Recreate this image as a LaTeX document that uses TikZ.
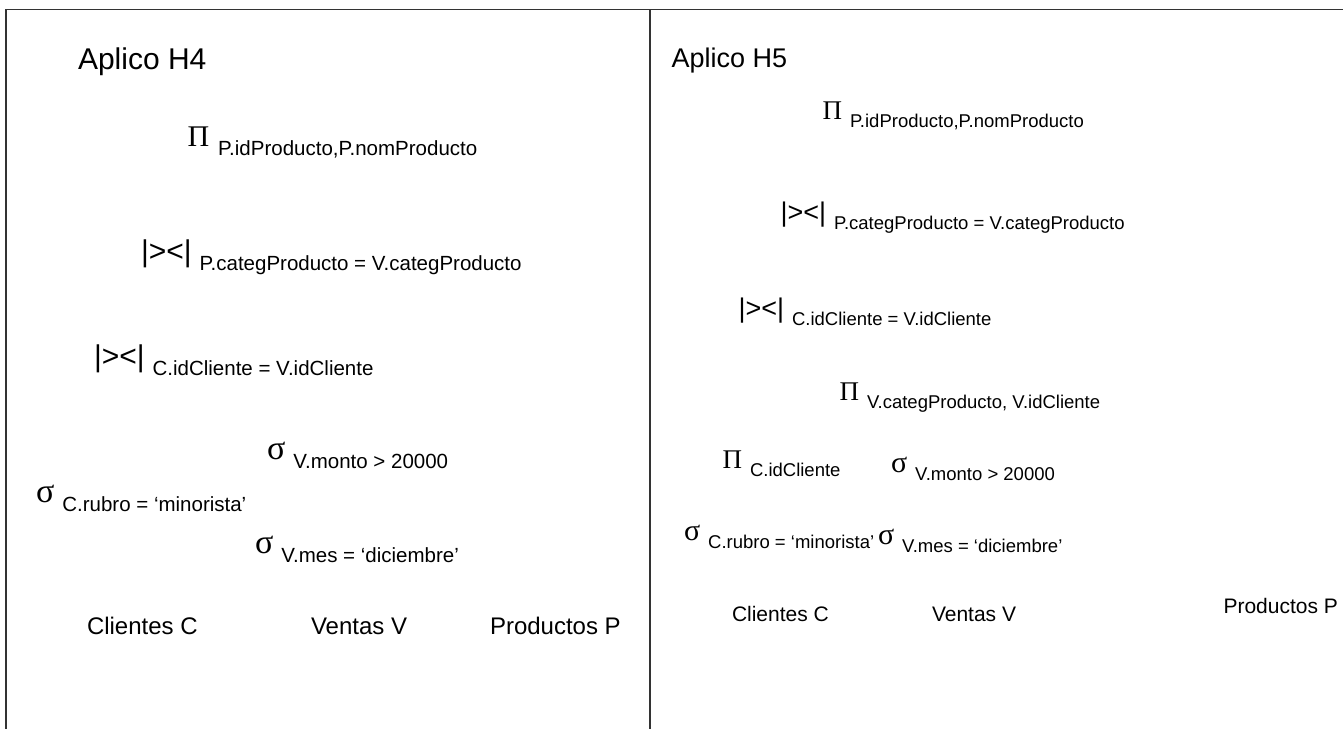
\documentclass[tikz,border=0pt]{standalone}
\usepackage{fontspec}
\setmainfont{Liberation Sans}
\newfontfamily\griega{Liberation Serif}
\usetikzlibrary{positioning}
\tikzstyle{texto} = [anchor=base west, inner sep=0pt, outer sep=0pt]
\tikzstyle{marco} = [line width=1.2pt, black!80]

\begin{document}
\begin{tikzpicture}[x=1pt, y=-1pt,
		txt/.style={texto, font=\fontsize{#1}{#1}\selectfont},
		simb/.style={texto, font=\griega\fontsize{#1}{#1}\selectfont},
		condA/.style 2 args={below right=9pt and #2 of #1.base east, texto, font=\fontsize{20.5}{20.5}\selectfont},
		condB/.style={below right=8pt and 8pt of #1.base east, texto, font=\fontsize{18.5}{18.5}\selectfont}]

		\useasboundingbox (0,0) rectangle (1343,729);
		\draw[marco] (1343,9.5) -- (6,9.5) -- (6,729);
		\draw[marco] (650,9.5) -- (650,729);

		% arbol H4
		\node[txt=30] (tituloA) at (78,69) {Aplico H4};
		\node[simb=30] (proyA) at (187.5,146) {Π};
		\node[condA={proyA}{9pt}] (proyAc) {P.idProducto,P.nomProducto};
		\node[txt=30] (juntaA) at (141,261) {|><|};
		\node[condA={juntaA}{8pt}] (juntaAc) {P.categProducto = V.categProducto};
		\node[txt=30] (juntaB) at (94,366) {|><|};
		\node[condA={juntaB}{8pt}] (juntaBc) {C.idCliente = V.idCliente};
		\node[simb=34] (selA) at (267,459) {σ};
		\node[condA={selA}{8pt}] (selAc) {V.monto > 20000};
		\node[simb=34] (selB) at (36,502) {σ};
		\node[condA={selB}{8pt}] (selBc) {C.rubro = ‘minorista’};
		\node[simb=34] (selC) at (255,553) {σ};
		\node[condA={selC}{8pt}] (selCc) {V.mes = ‘diciembre’};
		\node[txt=24] (clientesA) at (87,634) {Clientes C};
		\node[txt=24] (ventasA) at (311,634) {Ventas V};
		\node[txt=24] (productosA) at (490,634) {Productos P};

		% arbol H5
		\node[txt=27] (tituloB) at (671.5,67) {Aplico H5};
		\node[simb=27] (proyB) at (822.5,119) {Π};
		\node[condB=proyB] (proyBc) {P.idProducto,P.nomProducto};
		\node[txt=27] (juntaC) at (780.5,221.5) {|><|};
		\node[condB=juntaC] (juntaCc) {P.categProducto = V.categProducto};
		\node[txt=27] (juntaD) at (738.5,317) {|><|};
		\node[condB=juntaD] (juntaDc) {C.idCliente = V.idCliente};
		\node[simb=27] (proyC) at (839.5,400) {Π};
		\node[condB=proyC] (proyCc) {V.categProducto, V.idCliente};
		\node[simb=27] (proyD) at (722.5,468) {Π};
		\node[condB=proyD] (proyDc) {C.idCliente};
		\node[simb=30] (selD) at (891,472) {σ};
		\node[condB=selD] (selDc) {V.monto > 20000};
		\node[simb=30] (selE) at (684,540) {σ};
		\node[condB=selE] (selEc) {C.rubro = ‘minorista’};
		\node[simb=30] (selF) at (878,544) {σ};
		\node[condB=selF] (selFc) {V.mes = ‘diciembre’};
		\node[txt=21] (clientesB) at (732,621) {Clientes C};
		\node[txt=21] (ventasB) at (932,621) {Ventas V};
		\node[txt=21] (productosB) at (1223.5,613) {Productos P};
	\end{tikzpicture}
\end{document}
